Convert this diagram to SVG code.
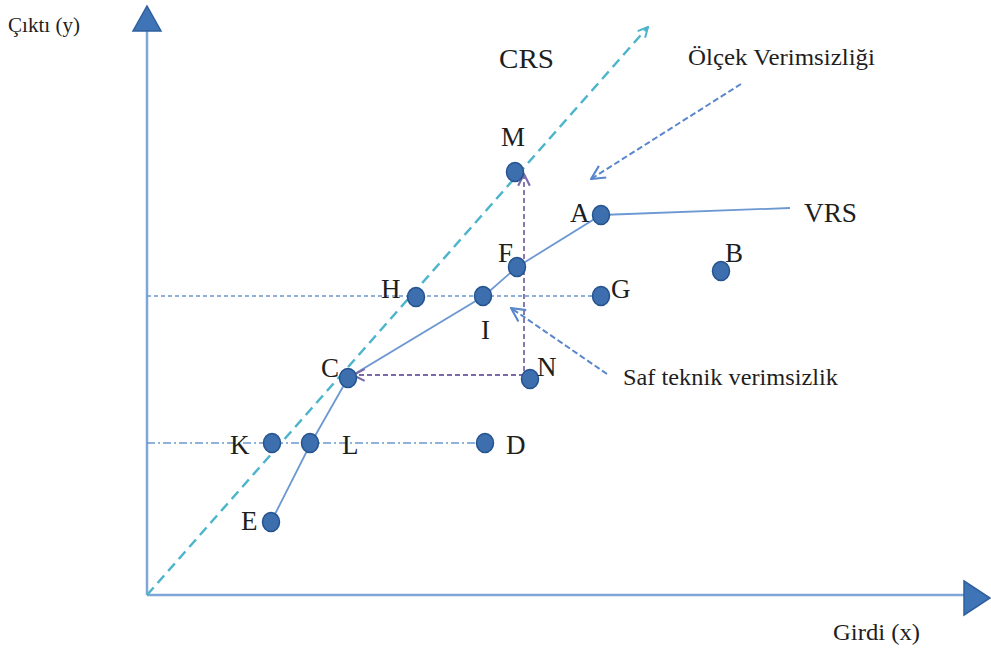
<svg xmlns="http://www.w3.org/2000/svg" width="991" height="658" viewBox="0 0 991 658" font-family="'Liberation Serif', 'DejaVu Serif', serif">
  <style>
    text { font-family: 'Liberation Serif', 'DejaVu Serif', serif; fill: #1e1e1e; }
    .lbl { font-size: 27px; }
    .axis { stroke: #7fa6d8; stroke-width: 2.5; fill: none; }
    .axhead { fill: #3f74b6; stroke: #2f5f9e; stroke-width: 1.5; }
    .vrs { stroke: #6d98d2; stroke-width: 1.8; fill: none; }
    .crs { stroke: #4cb5cc; stroke-width: 2.5; stroke-dasharray: 10 6; fill: none; }
    .guide { stroke: #6d98d2; stroke-width: 1.5; stroke-dasharray: 4 3; fill: none; }
    .guide2 { stroke: #6d98d2; stroke-width: 1.5; stroke-dasharray: 8 3 2 3; fill: none; }
    .purple { stroke: #7a6aa8; stroke-width: 1.8; stroke-dasharray: 5 3; fill: none; }
    .callout { stroke: #5a86cc; stroke-width: 2; stroke-dasharray: 6 3; fill: none; }
    .dot { fill: #3d6fae; stroke: #25538f; stroke-width: 1.5; }
  </style>
  <defs>
    <marker id="openCyan" viewBox="0 0 12 12" refX="11" refY="6" markerWidth="12" markerHeight="12" markerUnits="userSpaceOnUse" orient="auto">
      <path d="M1 1 L11 6 L1 11" fill="none" stroke="#4cb5cc" stroke-width="2"/>
    </marker>
    <marker id="openBlue" viewBox="0 0 14 14" refX="13" refY="7" markerWidth="16" markerHeight="16" markerUnits="userSpaceOnUse" orient="auto">
      <path d="M1 1 L13 7 L1 13" fill="none" stroke="#5a86cc" stroke-width="1.8"/>
    </marker>
    <marker id="openPurple" viewBox="0 0 12 12" refX="11" refY="6" markerWidth="14" markerHeight="14" markerUnits="userSpaceOnUse" orient="auto">
      <path d="M1 1 L11 6 L1 11" fill="none" stroke="#7a6aa8" stroke-width="1.8"/>
    </marker>
  </defs>

  <!-- axes -->
  <g id="axes">
    <line class="axis" x1="147" y1="595" x2="147" y2="30"/>
    <polygon class="axhead" points="133,31 161,31 147,6"/>
    <line class="axis" x1="147" y1="595" x2="964" y2="595"/>
    <polygon class="axhead" points="964,581 964,615 990,598"/>
    <text x="8" y="32" font-size="20" textLength="72" lengthAdjust="spacingAndGlyphs">Çıktı (y)</text>
    <text x="833" y="640" font-size="23" textLength="87" lengthAdjust="spacingAndGlyphs">Girdi (x)</text>
  </g>

  <!-- connectors -->
  <g id="connectors">
    <line class="guide" x1="147" y1="296" x2="596" y2="296"/>
    <line class="guide2" x1="147" y1="443" x2="480" y2="443"/>
    <path class="crs" d="M147 595 L648 27" marker-end="url(#openCyan)"/>
    <polyline class="vrs" points="271,522 311,443 348,378 484,296 517,267 601,215 790,208"/>
    <line class="purple" x1="524" y1="379" x2="524" y2="174" marker-end="url(#openPurple)"/>
    <line class="purple" x1="524" y1="375" x2="353" y2="375" marker-end="url(#openPurple)"/>
    <line class="callout" x1="741" y1="84" x2="591" y2="179" marker-end="url(#openBlue)"/>
    <line class="callout" x1="607" y1="374" x2="511" y2="308" marker-end="url(#openBlue)"/>
  </g>

  <!-- curve labels -->
  <g id="labels">
    <text x="499" y="68" font-size="28" textLength="55" lengthAdjust="spacingAndGlyphs">CRS</text>
    <text x="804" y="222" font-size="27" textLength="53" lengthAdjust="spacingAndGlyphs">VRS</text>
    <text x="688" y="65" font-size="23" textLength="187" lengthAdjust="spacingAndGlyphs">Ölçek Verimsizliği</text>
    <text x="623" y="385" font-size="23" textLength="215" lengthAdjust="spacingAndGlyphs">Saf teknik verimsizlik</text>
  </g>

  <!-- points -->
  <g id="node-M"><ellipse class="dot" cx="515" cy="172" rx="8.5" ry="9.5"/><text class="lbl" x="501" y="146">M</text></g>
  <g id="node-A"><ellipse class="dot" cx="601" cy="215" rx="8.5" ry="9.5"/><text class="lbl" x="570" y="222">A</text></g>
  <g id="node-F"><ellipse class="dot" cx="517" cy="267" rx="8.5" ry="9.5"/><text class="lbl" x="498" y="262">F</text></g>
  <g id="node-B"><ellipse class="dot" cx="721" cy="271" rx="8.5" ry="9.5"/><text class="lbl" x="725" y="262">B</text></g>
  <g id="node-H"><ellipse class="dot" cx="416" cy="297" rx="8.5" ry="9.5"/><text class="lbl" x="381" y="298">H</text></g>
  <g id="node-I"><ellipse class="dot" cx="483" cy="296" rx="8.5" ry="9.5"/><text class="lbl" x="481" y="339">I</text></g>
  <g id="node-G"><ellipse class="dot" cx="601" cy="296" rx="8.5" ry="9.5"/><text class="lbl" x="611" y="298">G</text></g>
  <g id="node-C"><ellipse class="dot" cx="348" cy="378" rx="8.5" ry="9.5"/><text class="lbl" x="321" y="377">C</text></g>
  <g id="node-N"><ellipse class="dot" cx="530" cy="379" rx="8.5" ry="9.5"/><text class="lbl" x="537" y="376">N</text></g>
  <g id="node-K"><ellipse class="dot" cx="272" cy="443" rx="8.5" ry="9.5"/><text class="lbl" x="230" y="454">K</text></g>
  <g id="node-L"><ellipse class="dot" cx="310" cy="443" rx="8.5" ry="9.5"/><text class="lbl" x="342" y="454">L</text></g>
  <g id="node-D"><ellipse class="dot" cx="485" cy="443" rx="8.5" ry="9.5"/><text class="lbl" x="506" y="454">D</text></g>
  <g id="node-E"><ellipse class="dot" cx="271" cy="522" rx="8.5" ry="9.5"/><text class="lbl" x="241" y="530">E</text></g>
</svg>
